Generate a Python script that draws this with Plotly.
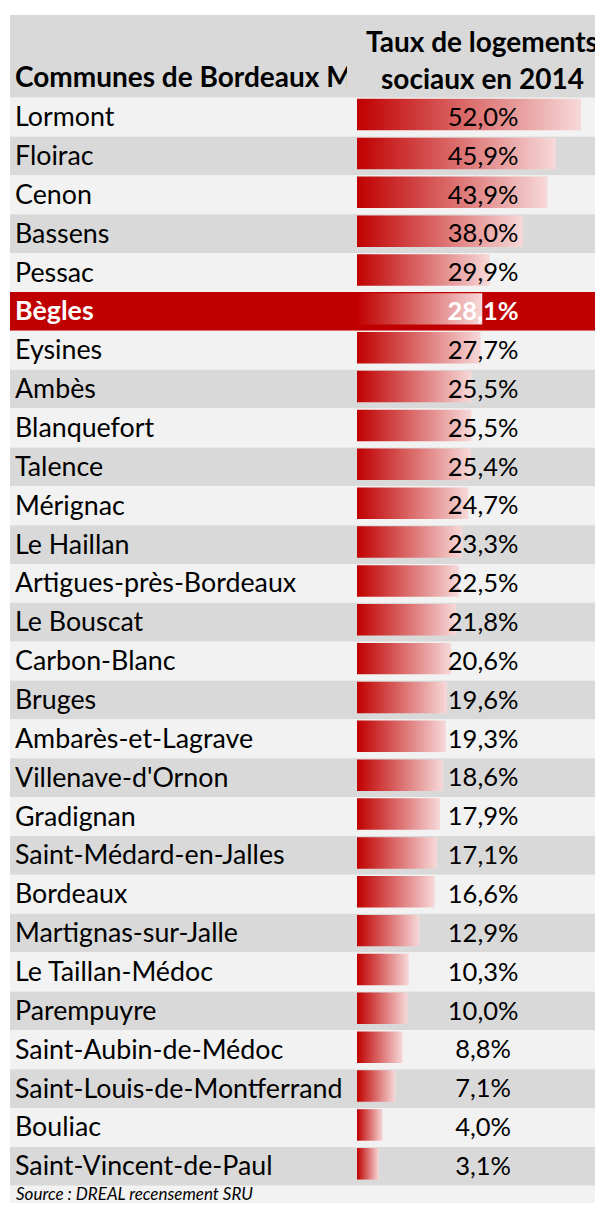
import plotly.graph_objects as go

communes = ["Lormont", "Floirac", "Cenon", "Bassens", "Pessac", "Bègles", "Eysines",
            "Ambès", "Blanquefort", "Talence", "Mérignac", "Le Haillan",
            "Artigues-près-Bordeaux", "Le Bouscat", "Carbon-Blanc", "Bruges",
            "Ambarès-et-Lagrave", "Villenave-d'Ornon", "Gradignan",
            "Saint-Médard-en-Jalles", "Bordeaux", "Martignas-sur-Jalle",
            "Le Taillan-Médoc", "Parempuyre", "Saint-Aubin-de-Médoc",
            "Saint-Louis-de-Montferrand", "Bouliac", "Saint-Vincent-de-Paul"]
taux = [52.0, 45.9, 43.9, 38.0, 29.9, 28.1, 27.7, 25.5, 25.5, 25.4, 24.7, 23.3,
        22.5, 21.8, 20.6, 19.6, 19.3, 18.6, 17.9, 17.1, 16.6, 12.9, 10.3, 10.0,
        8.8, 7.1, 4.0, 3.1]
highlight = "Bègles"

col1_header = "Communes de Bordeaux Mé"  # cut by the column width in the original
col2_header = ["Taux de logements", "sociaux en 2014"]
source = "Source : DREAL recensement SRU"

FONT = "Lato"
RED = "#C00000"
W, H = 603, 1195
OFF = 8  # the page body adds an 8px margin, so shift everything back
n = len(communes)
rows = list(range(n))
text_rows = [r + 0.06 for r in rows]
bar_base = -2.23  # data bars keep a minimum length, like Excel


def px(x):
    # window pixel -> paper x
    return (x - OFF) / W


ROW0, ROWH = 117.1, 38.86


def ry(y):
    # window pixel -> row units
    return (y - ROW0) / ROWH


fig = go.Figure()

# row backgrounds
shapes = [dict(type="rect", xref="paper", yref="y", x0=px(10), x1=1,
               y0=ry(15), y1=-0.5, fillcolor="#D9D9D9", line_width=0, layer="below")]
for i, c in enumerate(communes):
    if c == highlight:
        col = RED
    else:
        col = "#F2F2F2" if i % 2 == 0 else "#D9D9D9"
    shapes.append(dict(type="rect", xref="paper", yref="y", x0=px(10), x1=1,
                       y0=i - 0.5, y1=i + 0.5, fillcolor=col, line_width=0, layer="below"))
shapes.append(dict(type="rect", xref="paper", yref="y", x0=px(10), x1=1,
                   y0=n - 0.5, y1=n + 2, fillcolor="#F2F2F2", line_width=0, layer="below"))

# gradient data bars, one trace each so the gradient fits each bar
for i, v in enumerate(taux):
    fig.add_trace(go.Scatter(
        x=[bar_base, v, v, bar_base, bar_base],
        y=[i - 0.47, i - 0.47, i + 0.34, i + 0.34, i - 0.47],
        xaxis="x2", yaxis="y", mode="lines", fill="toself", line_width=0,
        fillgradient=dict(type="horizontal", colorscale=[[0, RED], [1, "#F7D9D9"]]),
        hoverinfo="skip", showlegend=False))

# commune names
fig.add_trace(go.Scatter(
    x=[15 - OFF] * n, y=text_rows, xaxis="x", yaxis="y", mode="text",
    text=[f"<b>{c}</b>" if c == highlight else c for c in communes],
    textposition="middle right",
    textfont=dict(family=FONT, size=26.8,
                  color=["white" if c == highlight else "black" for c in communes]),
    cliponaxis=False, hoverinfo="skip", showlegend=False))

# values
fig.add_trace(go.Scatter(
    x=[0.5] * n, y=text_rows, xaxis="x3", yaxis="y", mode="text",
    text=[(f"<b>{v:.1f}%</b>" if c == highlight else f"{v:.1f}%").replace(".", ",")
          for c, v in zip(communes, taux)],
    textposition="middle center",
    textfont=dict(family=FONT, size=25.5,
                  color=["white" if c == highlight else "black" for c in communes]),
    cliponaxis=False, hoverinfo="skip", showlegend=False))

# first header, clipped by its column
fig.add_trace(go.Scatter(
    x=[15 - OFF], y=[ry(80)], xaxis="x", yaxis="y", mode="text",
    text=[f"<b>{col1_header}</b>"], textposition="middle right",
    textfont=dict(family=FONT, size=28, color="black"),
    cliponaxis=True, hoverinfo="skip", showlegend=False))

annotations = [
    dict(text=f"<b>{col2_header[0]}</b>", xref="paper", yref="y", x=px(482), y=ry(41),
         xanchor="center", showarrow=False, font=dict(family=FONT, size=28, color="black")),
    dict(text=f"<b>{col2_header[1]}</b>", xref="paper", yref="y", x=px(482), y=ry(78),
         xanchor="center", showarrow=False, font=dict(family=FONT, size=28, color="black")),
    dict(text=f"<i>{source}</i>", xref="paper", yref="y", x=px(14), y=ry(1193),
         xanchor="left", showarrow=False, font=dict(family=FONT, size=17, color="black")),
]

hidden = dict(visible=False, showgrid=False, zeroline=False, fixedrange=True)
fig.update_layout(
    width=W, height=H,
    margin=dict(l=0, r=0, t=0, b=0),
    paper_bgcolor="white", plot_bgcolor="rgba(0,0,0,0)",
    xaxis=dict(domain=[0, px(347)], range=[0, 347 - OFF], **hidden),
    xaxis2=dict(domain=[px(357), 1], range=[bar_base, bar_base + (W + OFF - 357) / 4.13], **hidden),
    xaxis3=dict(domain=[px(363), 1], range=[0, 1 + OFF / (W + OFF - 363)], **hidden),
    yaxis=dict(domain=[0, 1], range=[ry(H + OFF), ry(OFF)], **hidden),
    shapes=shapes, annotations=annotations,
)

fig.write_html("out.html")
